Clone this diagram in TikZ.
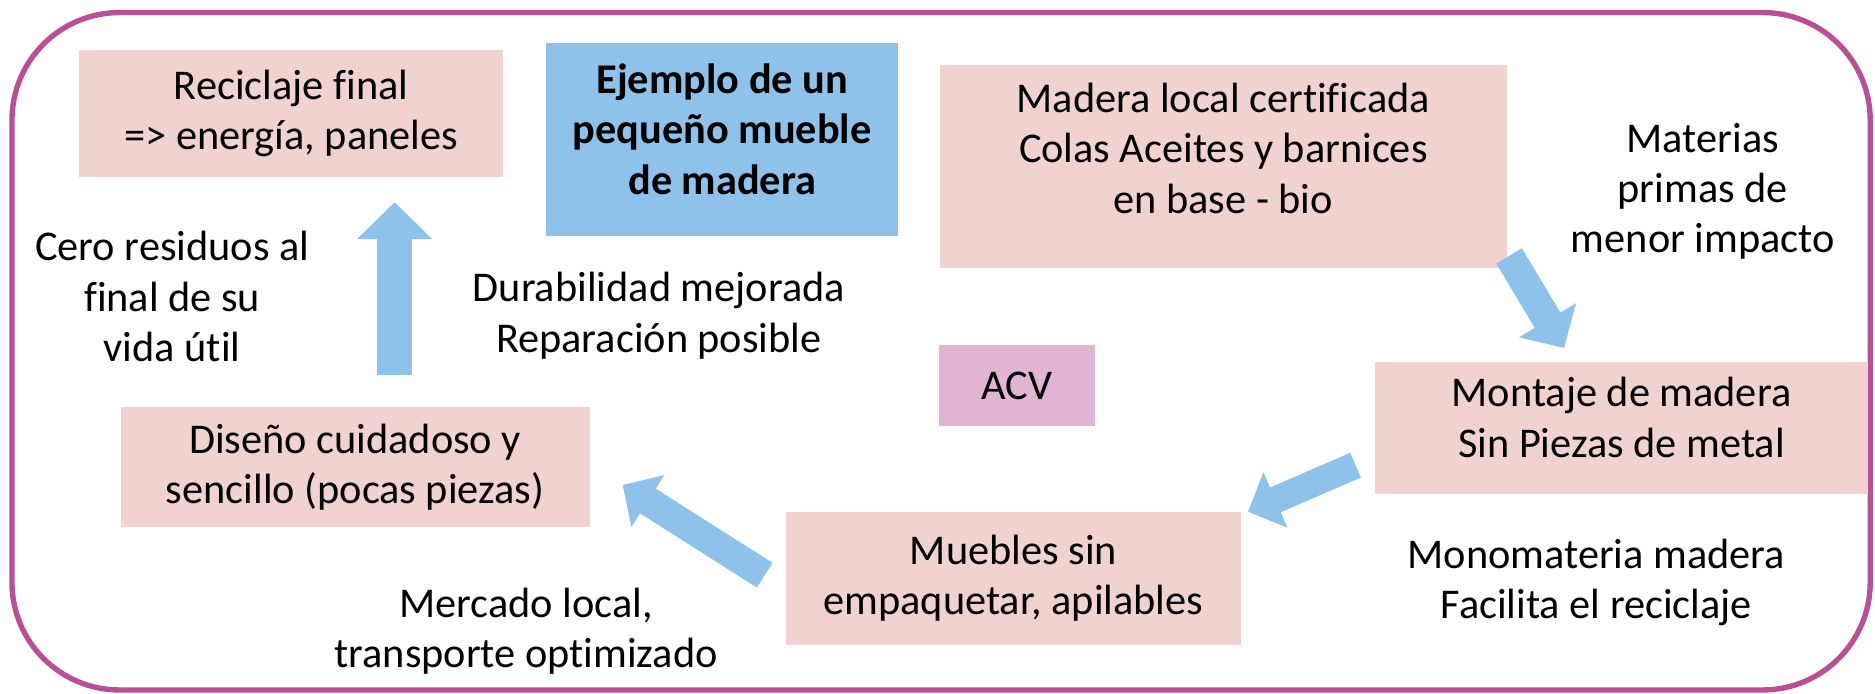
\documentclass[tikz,border=0pt]{standalone}
\usepackage{fontspec}
\setmainfont{Carlito}[Ligatures={NoCommon}]
\usetikzlibrary{arrows.meta}
\definecolor{framecol}{RGB}{185,80,150}
\definecolor{boxpink}{RGB}{240,210,208}
\definecolor{boxblue}{RGB}{142,194,234}
\definecolor{boxacv}{RGB}{226,180,212}
\definecolor{arrowblue}{RGB}{142,194,234}
\tikzset{
  lbl/.style={font=\fontsize{35.4}{42}\selectfont, align=center, inner sep=0pt},
  pinkbox/.style={lbl, fill=boxpink},
  bigarrow/.style n args={3}{draw=arrowblue, line width=#1, -{Triangle[length=#2,width=#3]}},
}
\begin{document}
\begin{tikzpicture}[x=1pt,y=-1pt]
\useasboundingbox (0,0) rectangle (1568,580);
% frame
\draw[framecol, line width=4.5pt, rounded corners=90pt] (10,10.5) rectangle (1564,577);
% boxes
\node[pinkbox, minimum width=355pt, minimum height=106pt] (recic) at (243.5,95) {Reciclaje final\\=> energía, paneles};
\node[lbl, fill=boxblue, font=\fontsize{35.4}{42}\selectfont\bfseries, minimum width=294pt, minimum height=161pt, text depth=17pt] (title) at (604,116.5) {Ejemplo de un\\pequeño mueble\\de madera};
\node[pinkbox, minimum width=474pt, minimum height=170pt, text depth=30pt] (madera) at (1023,139) {Madera local certificada\\Colas Aceites y barnices\\en base - bio};
\node[pinkbox, minimum width=412pt, minimum height=110pt, text depth=18pt] (montaje) at (1356,358) {Montaje de madera\\Sin Piezas de metal};
\node[pinkbox, minimum width=381pt, minimum height=111pt] (muebles) at (847.5,483.5) {Muebles sin\\empaquetar, apilables};
\node[pinkbox, minimum width=392pt, minimum height=101pt] (diseno) at (297,390.5) {Diseño cuidadoso y\\sencillo (pocas piezas)};
\node[lbl, fill=boxacv, minimum width=130pt, minimum height=68pt] (acv) at (850.5,322.5) {ACV};
% free texts
\node[lbl] (materias) at (1424,160) {Materias\\primas de\\menor impacto};
\node[lbl] (mono) at (1335,487) {Monomateria madera\\Facilita el reciclaje};
\node[lbl] (mercado) at (440,528) {Mercado local,\\transporte optimizado};
\node[lbl] (cero) at (144,248) {Cero residuos al\\final de su\\vida útil};
\node[lbl] (durab) at (551,264) {Durabilidad mejorada\\Reparación posible};
% arrow ends
\coordinate (a1s) at (1262,214);
\coordinate (a1e) at (1308,291);
\coordinate (a2s) at (1133.6,389);
\coordinate (a2e) at (1043.6,428);
\coordinate (a3s) at (639.5,481);
\coordinate (a3e) at (520.7,405.6);
\coordinate (a4s) at (330,314);
\coordinate (a4e) at (330,169);
\draw[bigarrow={25pt}{27pt}{54pt}] (a1s) -- (a1e);
\draw[bigarrow={22.5pt}{25pt}{49pt}] (a2s) -- (a2e);
\draw[bigarrow={24.5pt}{25pt}{50pt}] (a3s) -- (a3e);
\draw[bigarrow={29pt}{31pt}{61pt}] (a4s) -- (a4e);
\end{tikzpicture}
\end{document}
